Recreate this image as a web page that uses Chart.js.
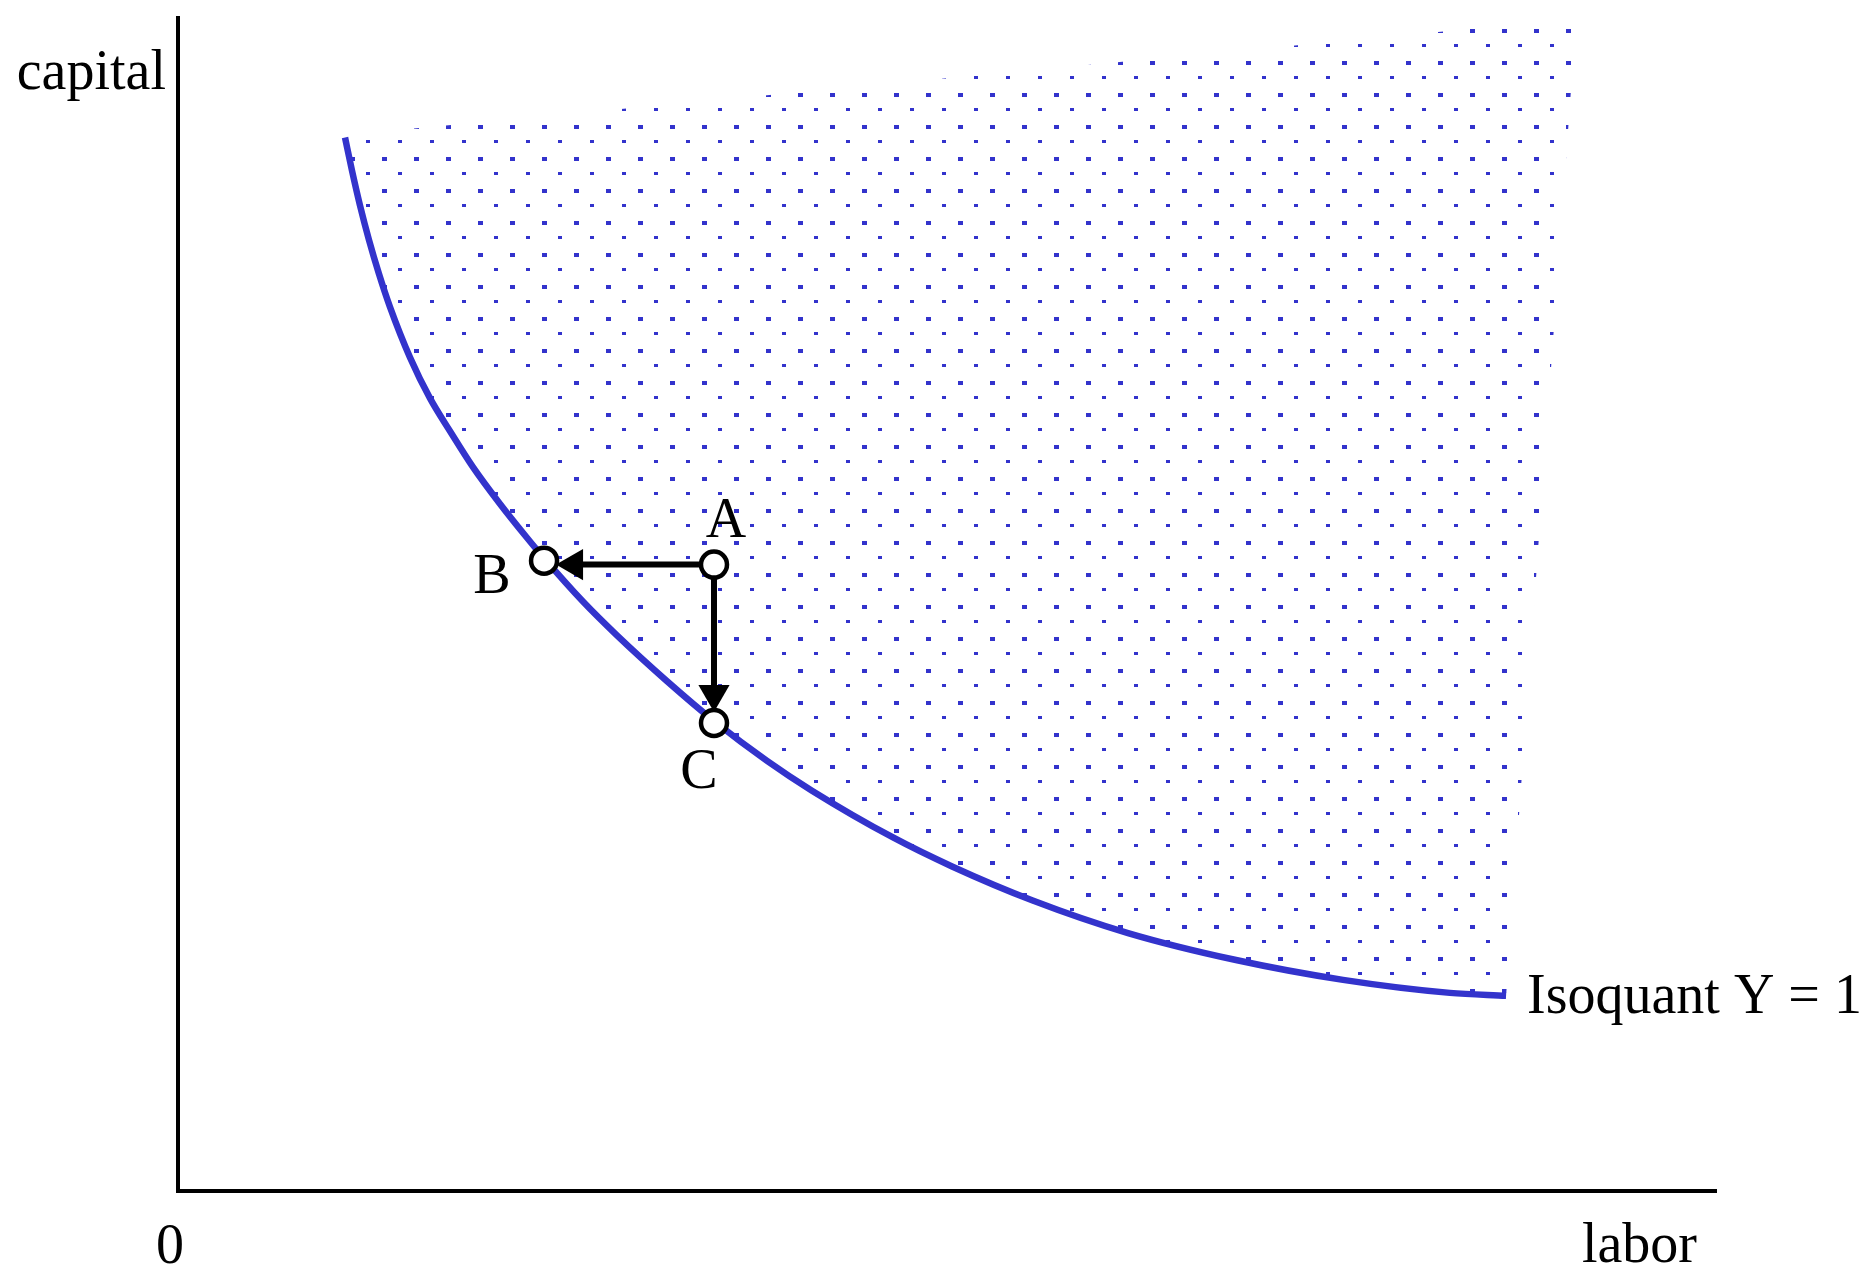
<!DOCTYPE html>
<html>
<head>
<meta charset="utf-8">
<script src="https://cdn.jsdelivr.net/npm/chart.js@4/dist/chart.umd.min.js"></script>
<style>
html, body { margin: 0; padding: 0; background: #fff; overflow: hidden; }
#wrap { position: relative; width: 1864px; height: 1269px; }
</style>
</head>
<body>
<div id="wrap"><canvas id="isoquantChart"></canvas></div>
<script>
// isoquant Y = 1 (both axes run 0..100, no ticks shown)
const isoLabor = [10.86, 11.31, 11.83, 12.42, 13.07, 13.78, 15.09, 16.39, 17.69, 19.18, 20.94, 22.69, 23.80,
    26.33, 28.54, 31.80, 34.85, 38.30, 41.22, 46.49, 50.33, 55.53, 61.77, 68.79, 75.75, 82.70, 86.35];
const isoCapital = [89.81, 87.01, 84.04, 81.07, 78.18, 75.38, 71.05, 67.57, 64.77, 61.71, 58.57, 55.69, 53.95,
    50.25, 47.37, 43.46, 40.07, 36.67, 34.13, 30.14, 27.67, 24.79, 21.99, 19.69, 18.00, 16.89, 16.64];

// corners that close the dotted region (top right, then top left)
const regionLabor = [90.90, 10.86];
const regionCapital = [99.92, 90.03];

// input bundles A, B, C
const pointNames = ['A', 'B', 'C'];
const pointLabor = [34.85, 23.80, 34.85];
const pointCapital = [53.40, 53.74, 39.90];

// arrow heads (A -> B, A -> C)
const arrowLabor = [25.75, 34.85];
const arrowCapital = [53.40, 42.36];

const axisNames = ['labor', 'capital'];
const originLabel = '0';
const curveLabel = 'Isoquant Y = 1';

const blue = '#3333cc';

// dotted fill: staggered grid, 32px apart, big and small dots
function dotPattern() {
    const c = document.createElement('canvas');
    c.width = 32;
    c.height = 32;
    const g = c.getContext('2d');
    g.fillStyle = blue;
    for (const dx of [-32, 0]) {
        for (const dy of [-32, 0]) {
            g.fillRect(30 + dx, 29 + dy, 5, 4);
            g.fillRect(14 + dx, 12 + dy, 4, 3);
        }
    }
    return g.createPattern(c, 'repeat');
}

const curveData = isoLabor.map((x, i) => ({x: x, y: isoCapital[i]}));
const regionData = [{x: regionLabor[1], y: regionCapital[1]}]
    .concat(curveData)
    .concat([{x: regionLabor[0], y: regionCapital[0]}]);
const bundleData = pointLabor.map((x, i) => ({x: x, y: pointCapital[i]}));
const arrowB = [bundleData[0], {x: arrowLabor[0], y: arrowCapital[0]}];
const arrowC = [bundleData[0], {x: arrowLabor[1], y: arrowCapital[1]}];

const textLabels = {
    id: 'textLabels',
    afterDatasetsDraw(chart) {
        const {ctx, chartArea, scales} = chart;
        const sx = scales.x, sy = scales.y;
        ctx.save();
        ctx.font = '56px "Liberation Serif", "DejaVu Serif", serif';
        ctx.fillStyle = '#000';
        ctx.textBaseline = 'alphabetic';

        ctx.textAlign = 'right';
        ctx.fillText(axisNames[1], chartArea.left - 12, chartArea.top + 71);
        ctx.fillText(axisNames[0], chartArea.right - 19, chartArea.bottom + 71);
        ctx.textAlign = 'center';
        ctx.fillText(originLabel, chartArea.left - 8, chartArea.bottom + 72);

        // curve name at the end of the isoquant
        const last = isoLabor.length - 1;
        ctx.textAlign = 'left';
        ctx.fillText(curveLabel, sx.getPixelForValue(isoLabor[last]) + 21,
            sy.getPixelForValue(isoCapital[last]) + 17);

        // bundle letters
        const offs = {A: [12, -28], B: [-52, 32], C: [-15, 65]};
        ctx.textAlign = 'center';
        pointNames.forEach((name, i) => {
            const px = sx.getPixelForValue(pointLabor[i]);
            const py = sy.getPixelForValue(pointCapital[i]);
            ctx.fillText(name, px + offs[name][0], py + offs[name][1]);
        });
        ctx.restore();
    }
};

const ctx = document.getElementById('isoquantChart').getContext('2d');

new Chart(ctx, {
    type: 'line',
    data: {
        datasets: [{
            // bundles drawn on top
            data: bundleData,
            showLine: false,
            pointRadius: 13,
            pointBorderWidth: 4.5,
            pointBorderColor: '#000',
            pointBackgroundColor: '#fff'
        }, {
            data: arrowB,
            borderColor: '#000',
            borderWidth: 6,
            pointRadius: [0, 18],
            pointStyle: 'triangle',
            pointRotation: 270,
            pointBorderWidth: 0,
            pointBackgroundColor: '#000'
        }, {
            data: arrowC,
            borderColor: '#000',
            borderWidth: 6,
            pointRadius: [0, 18],
            pointStyle: 'triangle',
            pointRotation: 180,
            pointBorderWidth: 0,
            pointBackgroundColor: '#000'
        }, {
            data: curveData,
            borderColor: blue,
            borderWidth: 6.5,
            cubicInterpolationMode: 'monotone',
            pointRadius: 0
        }, {
            data: regionData,
            borderWidth: 0,
            borderColor: 'rgba(0,0,0,0)',
            backgroundColor: dotPattern(),
            fill: 'shape',
            tension: 0,
            pointRadius: 0
        }]
    },
    options: {
        responsive: true,
        maintainAspectRatio: false,
        animation: false,
        layout: {
            padding: {left: 178, top: 13, right: 148, bottom: 78}
        },
        plugins: {
            legend: {display: false},
            tooltip: {enabled: false}
        },
        scales: {
            x: {
                type: 'linear',
                min: 0,
                max: 100,
                grid: {display: false, drawTicks: false},
                ticks: {display: false},
                border: {display: true, color: '#000', width: 4}
            },
            y: {
                type: 'linear',
                min: 0,
                max: 100,
                grid: {display: false, drawTicks: false},
                ticks: {display: false},
                border: {display: true, color: '#000', width: 4}
            }
        }
    },
    plugins: [textLabels]
});
</script>
</body>
</html>
